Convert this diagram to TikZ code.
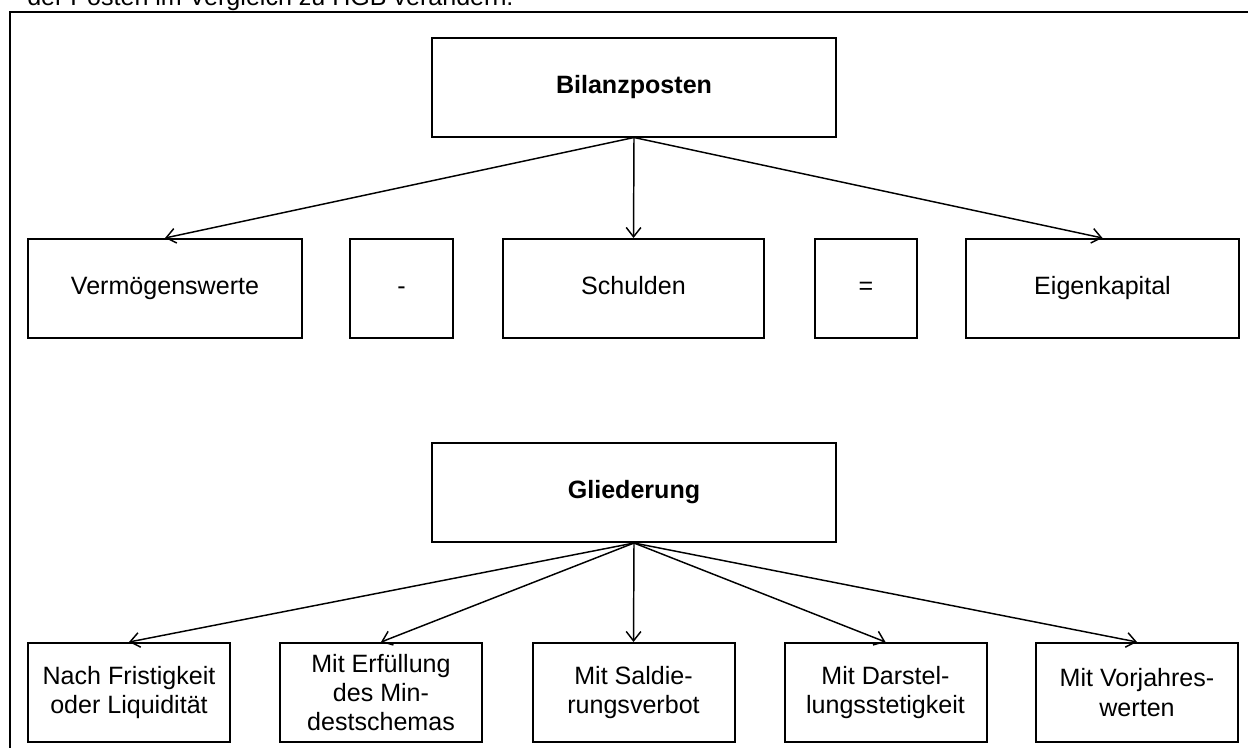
\documentclass[tikz,border=0pt]{standalone}
\usepackage{fontspec}
\setmainfont{Liberation Sans}
\usetikzlibrary{arrows.meta,positioning}

\begin{document}
\begin{tikzpicture}[x=0.75pt,y=-0.75pt,
  box/.style={draw,line width=1.5pt,align=center,inner sep=0pt,minimum height=99*0.75pt,font=\fontsize{18.8}{21.8}\selectfont},
  zeile/.style={box,text height=13.5pt,text depth=4pt},
  pfeil/.style={-{Straight Barb[length=7pt,width=11pt]},line width=1.1pt}]
\useasboundingbox (0,0) rectangle (1248,747);
%text above the frame (cut off)
\node[anchor=base west,inner sep=0pt,font=\fontsize{18.8}{21.8}\selectfont] (kopf) at (27,5) {der Posten im Vergleich zu HGB verändern.};
%frame
\draw[line width=1.5pt] (10,750) -- (10,12) -- (1250,12);
%first level
\node[zeile,minimum width=404*0.75pt] (bilanz) at (634,87) {\bfseries Bilanzposten};
\node[zeile,minimum width=274*0.75pt] (verm) at (165,288.5) {Vermögenswerte};
\node[zeile,minimum width=103*0.75pt] (minus) at (401.5,288.5) {-};
\node[zeile,minimum width=261*0.75pt] (schuld) at (633.5,288.5) {Schulden};
\node[zeile,minimum width=102*0.75pt] (gleich) at (866,288.5) {=};
\node[zeile,minimum width=273*0.75pt] (eigen) at (1102.5,288.5) {Eigenkapital};
%arrows
\draw[pfeil] (bilanz.south) -- (verm.north);
\draw[pfeil] (bilanz.south) -- (schuld.north);
\draw[pfeil] (bilanz.south) -- (eigen.north);
%second level
\node[zeile,minimum width=404*0.75pt] (glied) at (634,492.5) {\bfseries Gliederung};
\node[box,minimum width=202*0.75pt] (frist) at (129,692.5) {Nach Fristigkeit\\oder Liquidität};
\node[box,minimum width=202*0.75pt] (schema) at (381,692.5) {Mit Erfüllung\\des Min-\\destschemas};
\node[box,minimum width=202*0.75pt] (saldo) at (633.5,692.5) {Mit Saldie-\\rungsverbot};
\node[box,minimum width=202*0.75pt] (stetig) at (885.5,692.5) {Mit Darstel-\\lungsstetigkeit};
\node[box,minimum width=202*0.75pt] (vorjahr) at (1137,692.5) {Mit Vorjahres-\\werten};
%arrows
\foreach \ziel in {frist,schema,saldo,stetig,vorjahr}
  \draw[pfeil] (glied.south) -- (\ziel.north);
\end{tikzpicture}
\end{document}
